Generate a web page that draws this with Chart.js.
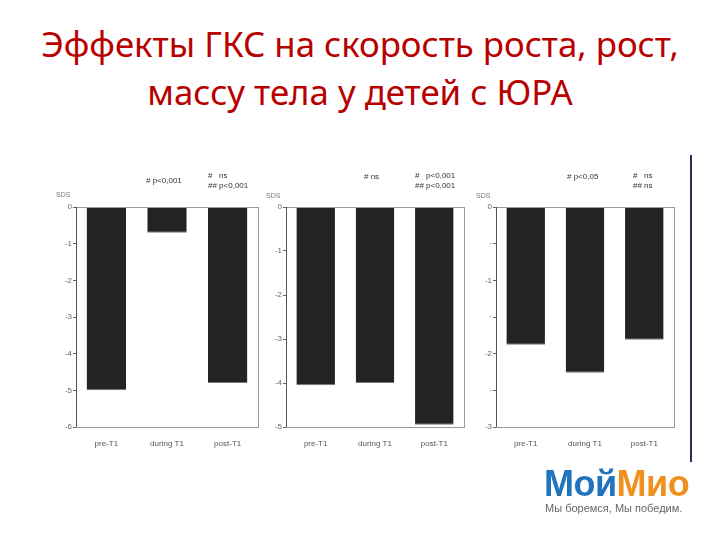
<!DOCTYPE html>
<html>
<head>
<meta charset="utf-8">
<script src="https://cdn.jsdelivr.net/npm/chart.js@4"></script>
<style>
  body { margin: 0; width: 720px; height: 540px; background: #fff; position: relative; overflow: hidden; font-family: "Liberation Sans", Arial, sans-serif; }
  .title { position: absolute; left: 0; width: 720px; text-align: center; color: #b80000; font-family: "Noto Sans", sans-serif; font-size: 34.8px; white-space: nowrap; }
  .panel { position: absolute; }
  .note { position: absolute; font-size: 8px; color: #333; white-space: nowrap; line-height: 10px; }
  .sds { position: absolute; font-size: 7px; color: #777; }
  .vline { position: absolute; left: 690px; top: 155px; width: 2px; height: 307px; background: #2a2f5a; }
  .logo { position: absolute; left: 544px; top: 466px; font-family: "Liberation Sans", Arial, sans-serif; font-weight: bold; font-size: 36px; letter-spacing: -0.5px; line-height: 36px; }
  .tag { position: absolute; left: 545px; top: 502px; font-size: 11px; color: #666; white-space: nowrap; }
</style>
</head>
<body>
<div class="title" style="top:20px">Эффекты ГКС на скорость роста, рост,</div>
<div class="title" style="top:68px">массу тела у детей с ЮРА</div>

<div class="panel" style="left:50px;top:190px;width:215px;height:260px"><canvas id="c1"></canvas></div>
<div class="panel" style="left:260px;top:190px;width:215px;height:260px"><canvas id="c2"></canvas></div>
<div class="panel" style="left:470px;top:190px;width:215px;height:260px"><canvas id="c3"></canvas></div>

<div class="sds" style="left:56px;top:191px">SDS</div>
<div class="sds" style="left:266px;top:192px">SDS</div>
<div class="sds" style="left:476px;top:192px">SDS</div>

<div class="note" style="left:146px;top:176px"># p&lt;0,001</div>
<div class="note" style="left:208px;top:171px">#&nbsp;&nbsp;&nbsp;ns<br>## p&lt;0,001</div>
<div class="note" style="left:364px;top:172px"># ns</div>
<div class="note" style="left:415px;top:171px">#&nbsp;&nbsp;&nbsp;p&lt;0,001<br>## p&lt;0,001</div>
<div class="note" style="left:567px;top:172px"># p&lt;0,05</div>
<div class="note" style="left:633px;top:171px">#&nbsp;&nbsp;&nbsp;ns<br>## ns</div>

<div class="vline"></div>
<div class="logo"><span style="color:#1f74bd">Мой</span><span style="color:#f0901e">Мио</span></div>
<div class="tag">Мы боремся, Мы победим.</div>

<script>
// categories and values
const categories = ["pre-T1", "during T1", "post-T1"]
const growthRate = [-5.0, -0.7, -4.8]
const heightSds = [-4.05, -4.0, -4.95]
const weightSds = [-1.88, -2.26, -1.81]

const frame = {
  id: "frame",
  afterDraw(chart) {
    const a = chart.chartArea
    const ctx = chart.ctx
    ctx.save()
    ctx.strokeStyle = "#999"
    ctx.lineWidth = 1
    ctx.strokeRect(a.left + 0.5, a.top + 0.5, a.right - a.left, a.bottom - a.top)
    ctx.strokeStyle = "#555"
    ctx.beginPath()
    ctx.moveTo(a.left + 0.5, a.top)
    ctx.lineTo(a.left + 0.5, a.bottom)
    ctx.stroke()
    ctx.restore()
  },
}

function makeChart(id, values, min, step, labelled, padRight) {
  return new Chart(document.getElementById(id), {
    type: "bar",
    data: {
      labels: categories,
      datasets: [{
        data: values,
        backgroundColor: "#232323",
        borderColor: "#777",
        borderWidth: { bottom: 1, top: 0, left: 0, right: 0 },
        borderSkipped: false,
        categoryPercentage: 1,
        barPercentage: 0.65,
      }],
    },
    options: {
      responsive: true,
      maintainAspectRatio: false,
      animation: false,
      layout: { padding: { top: 17, right: padRight, left: 0, bottom: 0 } },
      plugins: { legend: { display: false }, tooltip: { enabled: false } },
      scales: {
        x: {
          grid: { display: false },
          border: { display: false },
          ticks: { color: "#555", font: { size: 8 }, padding: 4 },
          afterFit: (s) => { s.height = 23 },
        },
        y: {
          min: min,
          max: 0,
          grid: { drawOnChartArea: false, drawTicks: true, tickLength: 3, color: "#666" },
          border: { display: false },
          ticks: {
            stepSize: step,
            color: "#666",
            font: { size: 8 },
            padding: 1,
            callback: (v) => (labelled(v) ? String(v) : "·"),
          },
          afterFit: (s) => { s.width = 26 },
        },
      },
    },
    plugins: [frame],
  })
}

makeChart("c1", growthRate, -6, 1, () => true, 7)
makeChart("c2", heightSds, -5, 1, () => true, 11)
makeChart("c3", weightSds, -3, 0.5, (v) => Number.isInteger(v), 11)
</script>
</body>
</html>
